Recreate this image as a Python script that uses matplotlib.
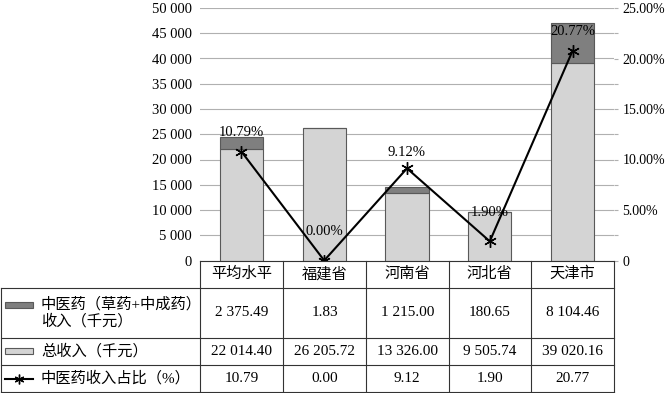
import matplotlib
matplotlib.use("Agg")
import matplotlib.pyplot as plt
from matplotlib.patches import Rectangle
from matplotlib.lines import Line2D
from matplotlib.ticker import FuncFormatter, MultipleLocator

categories = ["平均水平", "福建省", "河南省", "河北省", "天津市"]
tcm_income = [2375.49, 1.83, 1215.00, 180.65, 8104.46]
total_income = [22014.40, 26205.72, 13326.00, 9505.74, 39020.16]
tcm_share = [10.79, 0.00, 9.12, 1.90, 20.77]
tcm_str = ["2 375.49", "1.83", "1 215.00", "180.65", "8 104.46"]
total_str = ["22 014.40", "26 205.72", "13 326.00", "9 505.74", "39 020.16"]
share_str = ["10.79", "0.00", "9.12", "1.90", "20.77"]
row_labels = ["中医药（草药+中成药）\n收入（千元）", "总收入（千元）", "中医药收入占比（%）"]

# label placement (points above the marker)
label_offsets = [9, 16, 7, 16, 9]

FONT = ["Liberation Serif", "Noto Sans CJK SC"]
plt.rcParams["font.family"] = FONT
plt.rcParams["font.size"] = 10

W, H = 667, 393
fig = plt.figure(figsize=(W / 100, H / 100), dpi=100)

def fx(px):
    return px / W

def fy(py):
    return 1 - py / H

x0, x1 = 200, 614
ytop, ybot = 8, 260.5
ax = fig.add_axes([fx(x0), fy(ybot), fx(x1) - fx(x0), fy(ytop) - fy(ybot)])

light = "#d4d4d4"
dark = "#7f7f7f"
edge = "#595959"
xs = list(range(len(categories)))
ax.bar(xs, total_income, width=0.52, color=light, edgecolor=edge, linewidth=0.8, zorder=2)
ax.bar(xs, tcm_income, width=0.52, bottom=total_income, color=dark, edgecolor=edge,
       linewidth=0.8, zorder=2)
ax.set_xlim(-0.5, len(categories) - 0.5)
ax.set_ylim(0, 50000)
ax.yaxis.set_major_locator(MultipleLocator(5000))
ax.yaxis.set_major_formatter(FuncFormatter(
    lambda v, p: "0" if v == 0 else f"{int(v):,}".replace(",", " ")))
ax.grid(axis="y", color="#b0b0b0", linewidth=0.8, zorder=0)
ax.set_axisbelow(True)
for s in ["top", "right", "left", "bottom"]:
    ax.spines[s].set_visible(False)
ax.set_xticks([])
ax.tick_params(axis="y", length=0, pad=6, labelsize=10.5)

ax2 = ax.twinx()
ax2.set_ylim(0, 25)
ax2.plot(xs, tcm_share, color="black", linewidth=1.5, marker=(6, 2, 0),
         markersize=9, markeredgewidth=1.0, zorder=5)
for x, v, off in zip(xs, tcm_share, label_offsets):
    ax2.annotate(f"{v:.2f}%", (x, v), xytext=(0, off), textcoords="offset points",
                 ha="center", va="bottom", fontsize=10.5)
ax2.yaxis.set_major_locator(MultipleLocator(2.5))
ax2.yaxis.set_major_formatter(FuncFormatter(
    lambda v, p: "0" if v == 0 else (f"{v:.2f}%" if abs(v / 5 - round(v / 5)) < 1e-6 else "")))
for s in ["top", "right", "left", "bottom"]:
    ax2.spines[s].set_visible(False)
ax2.tick_params(axis="y", length=3, color="#b0b0b0", pad=3, labelsize=10)

# table
cols = [200, 283, 366, 448.5, 531, 614]
rows = [260.5, 287.5, 337.5, 365, 392]
lc = "#333333"
lw = 0.8

def hline(y, xa, xb):
    fig.add_artist(Line2D([fx(xa), fx(xb)], [fy(y), fy(y)], transform=fig.transFigure,
                          color=lc, linewidth=lw))

def vline(x, ya, yb):
    fig.add_artist(Line2D([fx(x), fx(x)], [fy(ya), fy(yb)], transform=fig.transFigure,
                          color=lc, linewidth=lw))

hline(rows[0], cols[0], cols[-1])
for y in rows[1:]:
    hline(y, 0.5, cols[-1])
vline(0.5, rows[1], rows[-1])
for c in cols:
    vline(c, rows[0], rows[-1])

for i, cat in enumerate(categories):
    cx = (cols[i] + cols[i + 1]) / 2
    fig.text(fx(cx), fy((rows[0] + rows[1]) / 2), cat, ha="center", va="center", fontsize=11)
    for r, vals in enumerate([tcm_str, total_str, share_str]):
        fig.text(fx(cx), fy((rows[r + 1] + rows[r + 2]) / 2), vals[i],
                 ha="center", va="center", fontsize=11)

for r, lab in enumerate(row_labels):
    cy = (rows[r + 1] + rows[r + 2]) / 2
    fig.text(fx(41), fy(cy), lab, ha="left", va="center", fontsize=11, linespacing=1.2)

# legend keys
sy = (rows[1] + rows[2]) / 2 - 8
fig.add_artist(Rectangle((fx(5), fy(sy + 3)), fx(33) - fx(5), fy(sy - 3) - fy(sy + 3),
                         transform=fig.transFigure, facecolor=dark, edgecolor=edge, linewidth=0.8))
sy = (rows[2] + rows[3]) / 2
fig.add_artist(Rectangle((fx(5), fy(sy + 3)), fx(33) - fx(5), fy(sy - 3) - fy(sy + 3),
                         transform=fig.transFigure, facecolor=light, edgecolor=edge, linewidth=0.8))
sy = (rows[3] + rows[4]) / 2
fig.add_artist(Line2D([fx(5), fx(33)], [fy(sy), fy(sy)], transform=fig.transFigure,
                      color="black", linewidth=1.5))
fig.add_artist(Line2D([fx(19)], [fy(sy)], transform=fig.transFigure, color="black",
                      marker=(6, 2, 0), markersize=7, markeredgewidth=1.0, linestyle="none"))

fig.savefig("out.png", dpi=100)
